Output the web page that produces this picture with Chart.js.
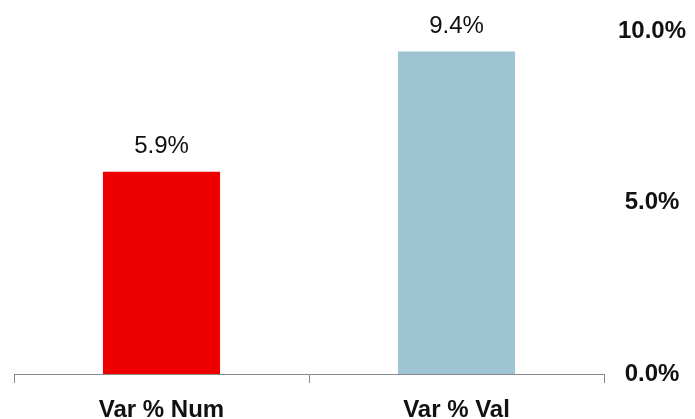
<!DOCTYPE html>
<html>
<head>
<meta charset="utf-8">
<script src="https://cdn.jsdelivr.net/npm/chart.js@4/dist/chart.umd.min.js"></script>
<style>
  html, body { margin: 0; padding: 0; background: #fff; }
  #wrap { width: 695px; height: 419px; }
</style>
</head>
<body>
<div id="wrap"><canvas id="c" width="695" height="419"></canvas></div>
<script>
// Variation figures (percent)
const categories = ['Var % Num', 'Var % Val'];
const values = [5.9, 9.4];
const barColors = ['#EE0000', '#9EC3D3'];
const yTicks = [0, 5, 10];

// Writes the percentage above each bar
const valueLabels = {
  id: 'valueLabels',
  afterDatasetsDraw(chart) {
    const ctx = chart.ctx;
    const meta = chart.getDatasetMeta(0);
    ctx.save();
    ctx.font = '24px "Liberation Sans", Arial, sans-serif';
    ctx.fillStyle = '#111';
    ctx.textAlign = 'center';
    ctx.textBaseline = 'middle';
    meta.data.forEach((bar, i) => {
      ctx.fillText(values[i].toFixed(1) + '%', bar.x, bar.y - 25);
    });
    ctx.restore();
  }
};

new Chart(document.getElementById('c'), {
  type: 'bar',
  data: {
    labels: categories,
    datasets: [{
      data: values,
      backgroundColor: barColors,
      borderWidth: 0,
      barPercentage: 0.397,
      categoryPercentage: 1.0
    }]
  },
  options: {
    responsive: false,
    animation: false,
    layout: { padding: { top: 31, left: 14, right: 0, bottom: 0 } },
    plugins: { legend: { display: false }, tooltip: { enabled: false } },
    scales: {
      x: {
        offset: true,
        afterFit(axis) { axis.height = 45; },
        grid: {
          offset: true,
          drawOnChartArea: false,
          drawTicks: true,
          tickLength: 9,
          color: '#888'
        },
        border: { display: true, color: '#888', width: 1 },
        ticks: {
          color: '#111',
          padding: 13,
          font: { family: '"Liberation Sans", Arial, sans-serif', size: 24, weight: 'bold' }
        }
      },
      y: {
        position: 'right',
        min: 0,
        max: 10,
        afterBuildTicks(axis) { axis.ticks = yTicks.map(v => ({ value: v })); },
        afterFit(axis) { axis.width = 91; },
        grid: { display: false, drawTicks: false },
        border: { display: false },
        ticks: {
          color: '#111',
          padding: 14,
          crossAlign: 'center',
          font: { family: '"Liberation Sans", Arial, sans-serif', size: 24, weight: 'bold' },
          callback: v => v.toFixed(1) + '%'
        }
      }
    }
  },
  plugins: [valueLabels]
});
</script>
</body>
</html>
